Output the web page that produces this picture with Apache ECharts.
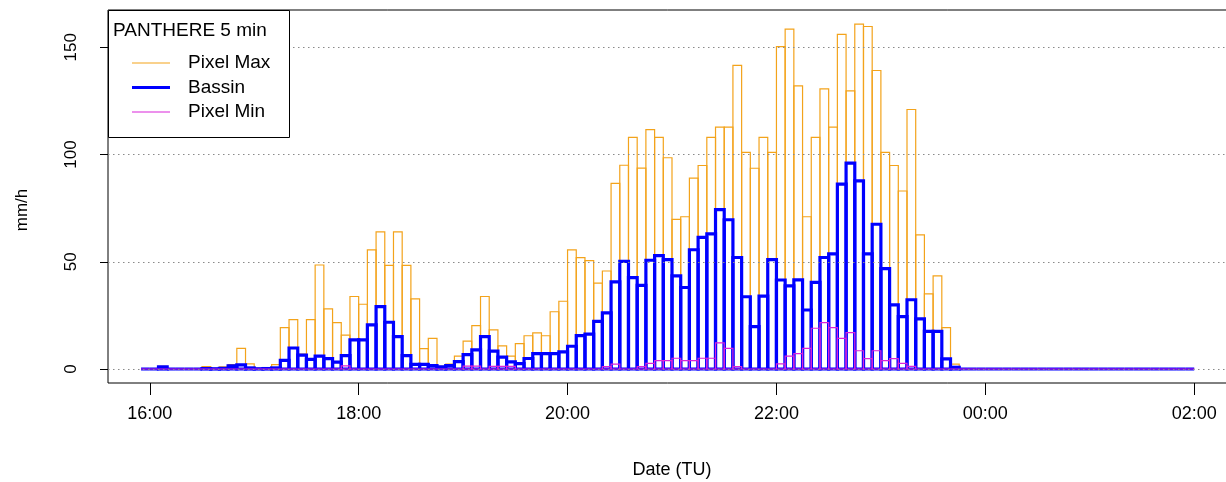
<!DOCTYPE html>
<html><head><meta charset="utf-8">
<script src="https://cdn.jsdelivr.net/npm/echarts@6/dist/echarts.min.js"></script>
<style>html,body{margin:0;padding:0;background:#fff}#chart{width:1226px;height:482px}</style>
</head><body><div id="chart"></div>
<script>
// Minutes after 16:00 of each 5-min accumulation end (bar spans [t-5, t])
const stepMinutes = 5;
const timeStamps = [];
for (let k = 0; k <= 120; k++) timeStamps.push(k * stepMinutes);

const pixelMax = [
  0, 0, 1.2, 0, 0, 0, 0, 1.1, 0.3, 1,
  2, 9.6, 2.4, 0.3, 0.5, 2, 19.3, 23, 7, 23,
  48.5, 28, 21.6, 15.8, 33.8, 30.2, 55.5, 63.9, 48.3, 63.9,
  48.3, 32.7, 9.5, 14.3, 1.2, 2.3, 6, 13, 20.2, 33.8,
  18.2, 10.8, 6, 11.8, 15.5, 16.8, 15.5, 26.7, 31.6, 55.5,
  51.9, 50.5, 40, 45.7, 86.6, 95, 108, 93.7, 111.6, 108,
  98.5, 69.8, 71, 89, 94.9, 108, 112.8, 112.8, 141.6, 101,
  93.6, 108, 101, 150.3, 158.5, 132, 71, 108, 130.6, 112.8,
  156, 129.7, 160.8, 159.7, 139.2, 101, 94.9, 83, 121, 62.5,
  35, 43.4, 19.3, 2.3, 0, 0, 0, 0, 0, 0,
  0, 0, 0, 0, 0, 0, 0, 0, 0, 0,
  0, 0, 0, 0, 0, 0, 0, 0, 0, 0,
  0
];
const bassin = [
  0, 0, 1, 0, 0, 0, 0, 0.2, 0.1, 0.3,
  1.5, 1.9, 0.5, 0.1, 0.2, 0.5, 4, 9.8, 6.5, 4.5,
  6, 4.8, 3.2, 6.2, 13.6, 13.6, 20.6, 29.1, 21.8, 15.1,
  6.2, 2.2, 2.2, 1.6, 1, 1.6, 3.4, 6.7, 8.9, 15.1,
  8.3, 5.5, 3.3, 2.5, 4.9, 7.2, 7.2, 7.2, 8, 10.6,
  15.6, 16.3, 22.2, 26.2, 40.6, 50.2, 42.6, 39, 50.7, 52.9,
  51, 43.4, 38, 55.6, 61.4, 63, 74.3, 69.6, 52, 33.7,
  19.8, 34, 51, 41.5, 38.8, 41.6, 27.5, 40.4, 52, 53.7,
  86.2, 96, 87.7, 53.7, 67.5, 46.8, 29.9, 24.4, 32.3, 23.4,
  17.5, 17.5, 4.7, 0.8, 0, 0, 0, 0, 0, 0,
  0, 0, 0, 0, 0, 0, 0, 0, 0, 0,
  0, 0, 0, 0, 0, 0, 0, 0, 0, 0,
  0
];
const pixelMin = [
  0, 0, 0, 0, 0, 0, 0, 0, 0, 0,
  0, 0, 0, 0, 0, 0, 0, 0, 0, 0,
  0, 0, 0, 1.5, 0, 0, 0, 0, 0, 0,
  0, 0, 0, 0, 0, 0, 0, 1.3, 1.3, 0,
  1.2, 1.2, 1.2, 0, 0, 0, 0, 0, 0, 0,
  0, 0, 0, 1.1, 2.3, 0, 0, 1.1, 2.6, 3.9,
  3.9, 5, 3.9, 3.9, 5, 5, 12.2, 9.6, 1.1, 0,
  0, 0, 0, 2.4, 6, 7.2, 9.6, 19, 21.6, 19.3,
  14.3, 17, 8.5, 4.8, 8.5, 3.9, 4.8, 2.6, 1.2, 0,
  0, 0, 0, 0, 0, 0, 0, 0, 0, 0,
  0, 0, 0, 0, 0, 0, 0, 0, 0, 0,
  0, 0, 0, 0, 0, 0, 0, 0, 0, 0,
  0
];
const xTickValues = [0, 120, 240, 360, 480, 600];
const xTickLabels = ['16:00', '18:00', '20:00', '22:00', '00:00', '02:00'];
const yTickValues = [0, 50, 100, 150];
const gridValues = [0, 50, 100, 150];
const seriesNames = ['Pixel Max', 'Bassin', 'Pixel Min'];
const legendTitle = 'PANTHERE 5 min';
const yTitle = 'mm/h';
const xTitle = 'Date (TU)';

const FONT = "'Liberation Sans', Arial, sans-serif";
const colors = ['#F3A31B', '#0000FF', '#D925D9'];
const widths = [1.2, 3.2, 1.2];

function pairs(vals) { return timeStamps.map((t, i) => [t, vals[i]]); }

function stepBars(color, width) {
  return function (params, api) {
    const t = api.value(0), v = api.value(1);
    const a = api.coord([t - stepMinutes, 0]);
    const b = api.coord([t, v]);
    return {
      type: 'polygon',
      shape: { points: [[a[0], a[1]], [a[0], b[1]], [b[0], b[1]], [b[0], a[1]]] },
      style: { fill: null, stroke: color, lineWidth: width, lineJoin: 'miter' }
    };
  };
}

const chart = echarts.init(document.getElementById('chart'), null, { renderer: 'canvas' });
const valuesList = [pixelMax, bassin, pixelMin];

const legendGraphics = [
  { type: 'rect', z: 100, shape: { x: 108.5, y: 10.5, width: 181, height: 127 },
    style: { fill: '#fff', stroke: '#000', lineWidth: 1 } },
  { type: 'text', z: 101, x: 113, y: 31,
    style: { text: legendTitle, font: '19px ' + FONT, fill: '#000', verticalAlign: 'middle' } },
  { type: 'text', z: 101, x: 22, y: 210, rotation: Math.PI / 2,
    style: { text: yTitle, font: '17px ' + FONT, fill: '#000', align: 'center', verticalAlign: 'middle' } }
];
seriesNames.forEach((name, i) => {
  const y = 63 + i * 24.5;
  legendGraphics.push({ type: 'line', z: 101, shape: { x1: 132, y1: y, x2: 170, y2: y },
    style: { stroke: colors[i], lineWidth: i === 1 ? 3.2 : 1.2 } });
  legendGraphics.push({ type: 'text', z: 101, x: 188, y: y,
    style: { text: name, font: '19px ' + FONT, fill: '#000', verticalAlign: 'middle' } });
});

const series = [{
  type: 'line', data: [], silent: true, z: 1,
  markLine: {
    silent: true, symbol: 'none', animation: false,
    label: { show: false },
    lineStyle: { type: [1.5, 3.5], color: '#8a8a8a', width: 1 },
    data: gridValues.map(v => ({ yAxis: v }))
  }
}];
valuesList.forEach((vals, i) => {
  series.push({
    type: 'custom', name: seriesNames[i], z: 2 + i,
    renderItem: stepBars(colors[i], widths[i]),
    encode: { x: 0, y: 1 },
    data: pairs(vals),
    animation: false
  });
});

chart.setOption({
  animation: false,
  backgroundColor: '#fff',
  textStyle: { fontFamily: FONT },
  grid: {
    left: 108, top: 10, width: 1128, height: 373,
    outerBoundsMode: 'none', containLabel: false,
    show: true, borderColor: '#000', borderWidth: 1, backgroundColor: '#fff'
  },
  xAxis: {
    type: 'value', min: -24, max: 624,
    axisLine: { show: false, onZero: false },
    splitLine: { show: false },
    axisTick: { show: true, customValues: xTickValues, length: 12, inside: false,
      lineStyle: { color: '#000', width: 1 } },
    axisLabel: { customValues: xTickValues, margin: 22, color: '#000', fontSize: 18, fontFamily: FONT,
      formatter: v => xTickLabels[xTickValues.indexOf(v)] },
    name: xTitle, nameLocation: 'middle', nameGap: 78,
    nameTextStyle: { color: '#000', fontSize: 18, fontFamily: FONT }
  },
  yAxis: {
    type: 'value', min: -6.53, max: 167.4,
    axisLine: { show: false, onZero: false },
    splitLine: { show: false },
    axisTick: { show: true, customValues: yTickValues, length: 8, inside: false,
      lineStyle: { color: '#000', width: 1 } },
    axisLabel: { customValues: yTickValues, rotate: 90, margin: 28, color: '#000', fontSize: 17, fontFamily: FONT }
  },
  graphic: legendGraphics,
  series: series
});
</script></body></html>
